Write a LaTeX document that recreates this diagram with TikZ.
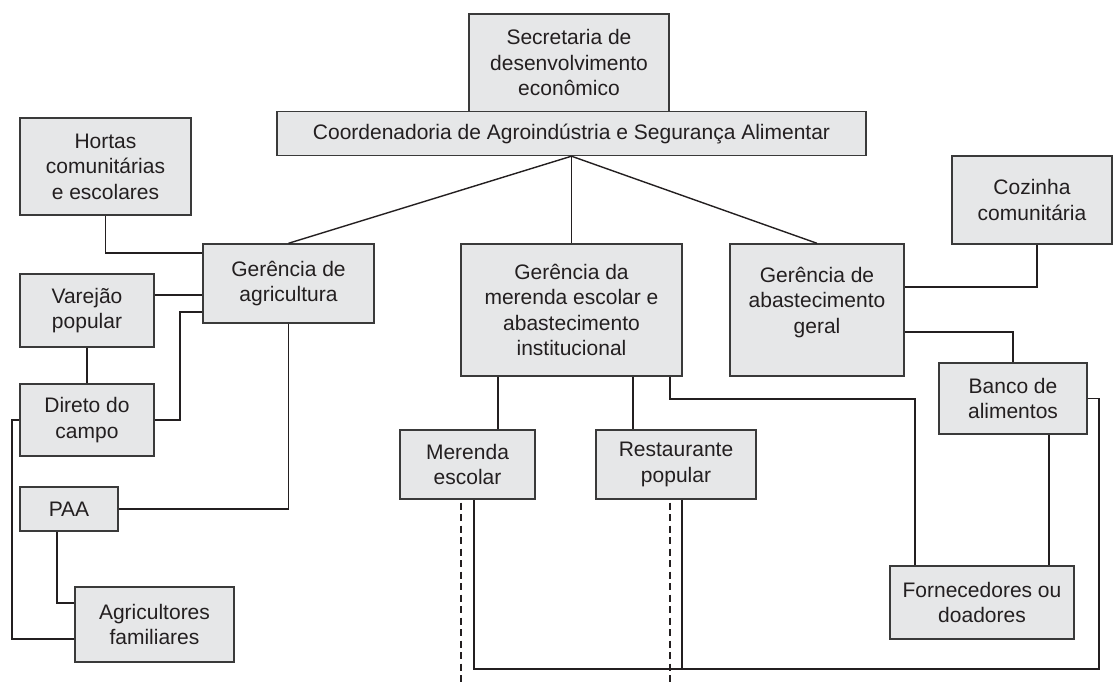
\documentclass[tikz,border=0pt]{standalone}
\usepackage{fontspec}
\setmainfont{Liberation Sans}
\usetikzlibrary{calc}
\definecolor{boxfill}{HTML}{E6E7E8}
\definecolor{boxline}{HTML}{3A3A3A}
\definecolor{ink}{HTML}{231F20}
\begin{document}
\begin{tikzpicture}[x=1pt,y=-1pt,
  box/.style={draw=boxline, fill=boxfill, line width=1.4pt, text=ink, align=center, inner sep=0pt, font=\fontsize{21}{25.5}\selectfont},
  link/.style={draw=ink, line width=1.4pt},
  dashlink/.style={draw=ink, line width=1.4pt, dash pattern=on 7pt off 4.5pt}]
\useasboundingbox (0,0) rectangle (1113,685);

% top
\node[box, minimum width=200pt, minimum height=97.5pt] (sec) at (569,62.75) {Secretaria de\\desenvolvimento\\econômico};
\node[box, minimum width=589pt, minimum height=44pt] (coord) at (571.5,133.5) {Coordenadoria de Agroindústria e Segurança Alimentar};

% left branch
\node[box, minimum width=171pt, minimum height=97pt] (hortas) at (105.5,166.5) {Hortas\\comunitárias\\e escolares};
\node[box, minimum width=171pt, minimum height=79pt] (gagr) at (288.5,283.5) {Gerência de\\agricultura};
\node[box, minimum width=134pt, minimum height=73pt] (varejao) at (87,310.5) {Varejão\\popular};
\node[box, minimum width=134pt, minimum height=72pt] (direto) at (87,420) {Direto do\\campo};
\node[box, minimum width=98pt, minimum height=44pt] (paa) at (69,509) {PAA};
\node[box, minimum width=159pt, minimum height=75pt] (agri) at (154.5,624.5) {Agricultores\\familiares};

% middle branch
\node[box, minimum width=221pt, minimum height=132pt] (gmer) at (571.5,310) {Gerência da\\merenda escolar e\\abastecimento\\institucional};
\node[box, minimum width=135pt, minimum height=69pt] (mesc) at (467.5,464.5) {Merenda\\escolar};
\node[box, minimum width=160pt, minimum height=69pt] (rest) at (676,464.5) {Restaurante\\popular};

% right branch
\node[box, minimum width=174pt, minimum height=132pt, text depth=20pt] (gabs) at (817,310) {Gerência de\\abastecimento\\geral};
\node[box, minimum width=160pt, minimum height=88pt] (coz) at (1032,200) {Cozinha\\comunitária};
\node[box, minimum width=148pt, minimum height=71pt] (banco) at (1013,398.5) {Banco de\\alimentos};
\node[box, minimum width=184pt, minimum height=73pt] (forn) at (982,602.5) {Fornecedores ou\\doadores};

% free ends of the dashed lines
\coordinate (dm) at (461,685);
\coordinate (dr) at (670,685);

% connectors from the coordenadoria
\draw[link] (coord.south) -- (gagr.north);
\draw[link] (coord.south) -- (gmer.north);
\draw[link] (coord.south) -- (gabs.north);

% left connectors
\draw[link] (hortas.south) |- (gagr.west |- 0,253);
\draw[link] (varejao.east |- 0,295) -- (gagr.west |- 0,295);
\draw[link] (gagr.west |- 0,312) -| (180,420) -- (direto.east);
\draw[link] (varejao.south) -- (direto.north);
\draw[link] (gagr.south) |- (paa.east);
\draw[link] (direto.west) -- (12,420) |- (agri.west |- 0,639);
\draw[link] (paa.south -| 57,0) |- (agri.west |- 0,603);

% middle connectors
\draw[link] (gmer.south -| 498,0) -- (mesc.north -| 498,0);
\draw[link] (gmer.south -| 633,0) -- (rest.north -| 633,0);
\draw[link] (gmer.south -| 670,0) |- (915,399) -- (forn.north -| 915,0);

% right connectors
\draw[link] (gabs.east |- 0,287) -| (coz.south -| 1037,0);
\draw[link] (gabs.east |- 0,332) -| (banco.north);
\draw[link] (banco.south -| 1049,0) -- (forn.north -| 1049,0);
\draw[link] (banco.east) -- (1099,398.5) |- (474,669) -- (mesc.south -| 474,0);
\draw[link] (rest.south -| 682,0) -- (682,669);

% dashed lines
\draw[dashlink] ($(mesc.south -| dm)+(0,3)$) -- (dm);
\draw[dashlink] ($(rest.south -| dr)+(0,3)$) -- (dr);
\end{tikzpicture}
\end{document}
